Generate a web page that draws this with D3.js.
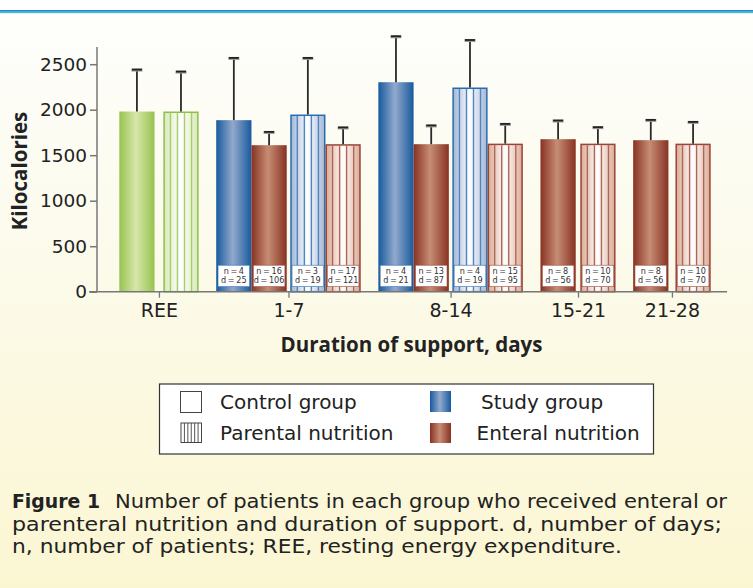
<!DOCTYPE html>
<html>
<head>
<meta charset="utf-8">
<script src="https://cdn.jsdelivr.net/npm/d3@7"></script>
<style>
	body { margin: 0; background: #fff; }
	svg { display: block; }
	text { font-family: "DejaVu Sans", sans-serif; }
	.bold { font-family: "Open Sans", "DejaVu Sans", sans-serif; font-weight: bold; }
	.nd { font-family: "DejaVu Sans Condensed", "DejaVu Sans", sans-serif; }
</style>
</head>
<body>
<div id="chart"></div>
<script>
//
// Data
//
var categories = ["REE", "1-7", "8-14", "15-21", "21-28"];

var barCategory = ["REE", "REE", "1-7", "1-7", "1-7", "1-7", "8-14", "8-14", "8-14", "8-14", "15-21", "15-21", "21-28", "21-28"];
var barGroup    = ["ree", "ree", "study", "enteral", "study", "enteral", "study", "enteral", "study", "enteral", "enteral", "enteral", "enteral", "enteral"];
var barStriped  = [false, true, false, false, true, true, false, false, true, true, false, true, false, true];
var barMean     = [1980, 1980, 1885, 1610, 1947, 1621, 2302, 1621, 2244, 1627, 1676, 1627, 1665, 1627];
var barSD       = [461, 439, 684, 146, 622, 184, 505, 206, 522, 217, 205, 181, 223, 239];
var barN        = [null, null, 4, 16, 3, 17, 4, 13, 4, 15, 8, 10, 8, 10];
var barD        = [null, null, 25, 106, 19, 121, 21, 87, 19, 95, 56, 70, 56, 70];

var yTicks = [0, 500, 1000, 1500, 2000, 2500];

var legendItems = ["Control group", "Parental nutrition", "Study group", "Enteral nutrition"];

var captionLabel = "Figure 1";
var captionLines = [
	"Number of patients in each group who received enteral or",
	"parenteral nutrition and duration of support. d, number of days;",
	"n, number of patients; REE, resting energy expenditure."
];

//
// Layout
//
var _width = 753,
	_height = 588;

var plot = { left: 97, right: 727, top: 46, bottom: 291.7 };

// gaps between solid/striped pairs and between groups, in bar widths
var pairGap = { "REE": 0.25, "1-7": 0.1, "8-14": 0.1, "15-21": 0.13, "21-28": 0.2 };
var groupGap = 0.5;

var colours = {
	ree:     { dark: "#97c350", light: "#d7e7a9", pale: "#d9e9bb", stroke: "#8cc04a", stripe: "#a6cf68" },
	study:   { dark: "#175a9e", light: "#93a9cc", pale: "#a3b6d6", stroke: "#2b6cae", stripe: "#4f86bf" },
	enteral: { dark: "#873222", light: "#c78d75", pale: "#dcab96", stroke: "#9a4535", stripe: "#ad6757" }
};

var bars = barMean.map(function(v, i) {
	return {
		cat: barCategory[i],
		group: barGroup[i],
		striped: barStriped[i],
		mean: v,
		sd: barSD[i],
		n: barN[i],
		d: barD[i]
	};
});

// unit offsets for each bar
var u = 0;
bars.forEach(function(b, i) {
	if (i > 0) {
		if (b.cat !== bars[i - 1].cat) {
			u += groupGap;
		} else if (b.striped !== bars[i - 1].striped) {
			u += pairGap[b.cat];
		}
	}
	b.u0 = u;
	u += 1;
});

var x = d3.scaleLinear()
	.domain([0, u])
	.range([119.3, 710.7]);

var y = d3.scaleLinear()
	.domain([0, 2700])
	.range([plot.bottom, plot.top]);

var barW = x(1) - x(0);

var svg = d3.select("#chart").append("svg")
	.attr("width", _width)
	.attr("height", _height);

var defs = svg.append("defs");

// page background
var bg = defs.append("linearGradient")
	.attr("id", "bg")
	.attr("x1", 0).attr("y1", 0).attr("x2", 0).attr("y2", 1);
bg.append("stop").attr("offset", 0).attr("stop-color", "#fefefc");
bg.append("stop").attr("offset", 0.35).attr("stop-color", "#fcfbee");
bg.append("stop").attr("offset", 1).attr("stop-color", "#fbf6d2");

Object.keys(colours).forEach(function(k) {
	var c = colours[k];
	var g = defs.append("linearGradient").attr("id", "solid-" + k);
	g.append("stop").attr("offset", 0).attr("stop-color", c.dark);
	g.append("stop").attr("offset", 0.47).attr("stop-color", c.light);
	g.append("stop").attr("offset", 1).attr("stop-color", c.dark);

	var s = defs.append("linearGradient").attr("id", "striped-" + k);
	s.append("stop").attr("offset", 0).attr("stop-color", c.pale);
	s.append("stop").attr("offset", 0.5).attr("stop-color", "#ffffff");
	s.append("stop").attr("offset", 1).attr("stop-color", c.pale);
});

svg.append("rect")
	.attr("width", _width)
	.attr("height", _height)
	.attr("fill", "#fff");

svg.append("rect")
	.attr("y", 13)
	.attr("width", _width)
	.attr("height", _height - 13)
	.attr("fill", "url(#bg)");

// blue rule at the top
svg.append("rect")
	.attr("y", 10)
	.attr("width", _width)
	.attr("height", 1.8)
	.attr("fill", "#1b8fc0");
svg.append("rect")
	.attr("y", 11.8)
	.attr("width", _width)
	.attr("height", 1.4)
	.attr("fill", "#52b6dc");

//
// Bars
//
var barG = svg.append("g").attr("class", "bars");

bars.forEach(function(b) {
	var bx = x(b.u0),
		by = y(b.mean),
		bh = y(0) - y(b.mean),
		c = colours[b.group];

	var g = barG.append("g");

	if (!b.striped) {
		g.append("rect")
			.attr("x", bx)
			.attr("y", by)
			.attr("width", barW)
			.attr("height", bh)
			.attr("fill", "url(#solid-" + b.group + ")");
	} else {
		g.append("rect")
			.attr("x", bx + 0.75)
			.attr("y", by + 0.75)
			.attr("width", barW - 1.5)
			.attr("height", bh - 0.75)
			.attr("fill", "url(#striped-" + b.group + ")")
			.attr("stroke", c.stroke)
			.attr("stroke-width", 1.5);

		g.selectAll("line.stripe")
			.data(d3.range(1, 5))
			.enter()
			.append("line")
			.attr("class", "stripe")
			.attr("x1", function(k) { return bx + k * barW / 5; })
			.attr("x2", function(k) { return bx + k * barW / 5; })
			.attr("y1", by + 1.5)
			.attr("y2", y(0))
			.attr("stroke", c.stripe)
			.attr("stroke-width", 1.4);
	}

	// error bar
	var cx = bx + barW / 2,
		ey = y(b.mean + b.sd);
	g.append("line")
		.attr("x1", cx).attr("x2", cx)
		.attr("y1", by).attr("y2", ey)
		.attr("stroke", "#2a2a2a")
		.attr("stroke-width", 1.8);
	g.append("line")
		.attr("x1", cx - 5.5).attr("x2", cx + 5.5)
		.attr("y1", ey + 0.5).attr("y2", ey + 0.5)
		.attr("stroke", "#9a9a9a")
		.attr("stroke-width", 3);
	g.append("line")
		.attr("x1", cx - 5).attr("x2", cx + 5)
		.attr("y1", ey).attr("y2", ey)
		.attr("stroke", "#222")
		.attr("stroke-width", 1.8);

	// n / d box
	if (b.n !== null) {
		var boxTop = y(0) - 26.5,
			boxBottom = y(0) - 5;
		g.append("rect")
			.attr("x", bx + 1.8)
			.attr("y", boxTop)
			.attr("width", barW - 3.6)
			.attr("height", boxBottom - boxTop)
			.attr("fill", "#fff")
			.attr("stroke", c.stroke)
			.attr("stroke-width", 0.6);
		g.append("text")
			.attr("class", "nd")
			.attr("x", cx)
			.attr("y", boxTop + 8.6)
			.attr("text-anchor", "middle")
			.attr("font-size", 9)
			.attr("fill", "#333")
			.text("n\u2009=\u2009" + b.n);
		g.append("text")
			.attr("class", "nd")
			.attr("x", cx)
			.attr("y", boxTop + 18)
			.attr("text-anchor", "middle")
			.attr("font-size", 9)
			.attr("fill", "#333")
			.text("d\u2009=\u2009" + b.d);
	}
});

//
// Axes
//
var axisColour = "#777";

var yAxis = svg.append("g")
	.attr("transform", "translate(" + plot.left + ",0)")
	.call(d3.axisLeft(y).tickValues(yTicks).tickSize(7).tickPadding(3).tickFormat(d3.format("d")));
yAxis.select(".domain").remove();
yAxis.append("line")
	.attr("x1", 0).attr("x2", 0)
	.attr("y1", plot.top + 1).attr("y2", plot.bottom)
	.attr("stroke", axisColour)
	.attr("stroke-width", 1.5);
yAxis.selectAll(".tick line").attr("stroke", axisColour).attr("stroke-width", 1.5);
yAxis.selectAll(".tick text")
	.attr("font-size", 18.5)
	.attr("fill", "#222")
	.attr("font-family", "\"DejaVu Sans\", sans-serif");

var catCentre = {};
categories.forEach(function(c) {
	var bs = bars.filter(function(b) { return b.cat === c; });
	catCentre[c] = (x(bs[0].u0) + x(bs[bs.length - 1].u0 + 1)) / 2;
});

var xPos = d3.scaleOrdinal()
	.domain(categories)
	.range(categories.map(function(c) { return catCentre[c]; }));

var xAxis = svg.append("g")
	.attr("transform", "translate(0," + plot.bottom + ")")
	.call(d3.axisBottom(xPos).tickSize(6).tickPadding(6));
xAxis.select(".domain").remove();
xAxis.append("line")
	.attr("x1", 89).attr("x2", plot.right)
	.attr("y1", 0).attr("y2", 0)
	.attr("stroke", axisColour)
	.attr("stroke-width", 1.5);
xAxis.selectAll(".tick line").attr("stroke", axisColour).attr("stroke-width", 1.3);
xAxis.selectAll(".tick text")
	.attr("font-size", 19)
	.attr("fill", "#222")
	.attr("font-family", "\"DejaVu Sans\", sans-serif");

// axis titles
svg.append("text")
	.attr("class", "bold")
	.attr("transform", "translate(27,171) rotate(-90)")
	.attr("text-anchor", "middle")
	.attr("font-size", 20.5)
	.attr("fill", "#222")
	.text("Kilocalories");

svg.append("text")
	.attr("class", "bold")
	.attr("x", 411.5)
	.attr("y", 352)
	.attr("text-anchor", "middle")
	.attr("font-size", 20.5)
	.attr("fill", "#222")
	.text("Duration of support, days");

//
// Legend
//
var legend = svg.append("g").attr("class", "legend");

legend.append("rect")
	.attr("x", 159.5).attr("y", 384)
	.attr("width", 494).attr("height", 70)
	.attr("fill", "#fff")
	.attr("stroke", "#333")
	.attr("stroke-width", 1.2);

// control
legend.append("rect")
	.attr("x", 180.5).attr("y", 391.5)
	.attr("width", 21).attr("height", 21)
	.attr("fill", "#fff")
	.attr("stroke", "#444")
	.attr("stroke-width", 1);

// parental (striped)
legend.append("rect")
	.attr("x", 181).attr("y", 423)
	.attr("width", 20.5).attr("height", 19.5)
	.attr("fill", "#fff")
	.attr("stroke", "#444")
	.attr("stroke-width", 1);
legend.selectAll("line.lstripe")
	.data(d3.range(1, 6))
	.enter()
	.append("line")
	.attr("x1", function(k) { return 181 + k * 20.5 / 6; })
	.attr("x2", function(k) { return 181 + k * 20.5 / 6; })
	.attr("y1", 423).attr("y2", 442.5)
	.attr("stroke", "#444")
	.attr("stroke-width", 0.9);

legend.append("rect")
	.attr("x", 430).attr("y", 391)
	.attr("width", 21).attr("height", 21)
	.attr("fill", "url(#solid-study)");
legend.append("rect")
	.attr("x", 430).attr("y", 423)
	.attr("width", 21).attr("height", 20)
	.attr("fill", "url(#solid-enteral)");

var legendPos = [[220, 408.5], [220, 440], [481, 408.5], [476.5, 440]];
legend.selectAll("text")
	.data(legendItems)
	.enter()
	.append("text")
	.attr("x", function(d, i) { return legendPos[i][0]; })
	.attr("y", function(d, i) { return legendPos[i][1]; })
	.attr("font-size", 20)
	.attr("fill", "#222")
	.text(function(d) { return d; });

//
// Caption
//
var caption = svg.append("g").attr("class", "caption");

caption.append("text")
	.attr("x", 12)
	.attr("y", 508)
	.attr("font-size", 19)
	.attr("font-weight", "bold")
	.attr("fill", "#222")
	.attr("textLength", 88)
	.attr("lengthAdjust", "spacingAndGlyphs")
	.text(captionLabel);

var captionX = [115, 12, 12],
	captionEnd = [727, 722, 622];

caption.selectAll("text.line")
	.data(captionLines)
	.enter()
	.append("text")
	.attr("class", "line")
	.attr("x", function(d, i) { return captionX[i]; })
	.attr("y", function(d, i) { return 508 + i * 22.5; })
	.attr("font-size", 19.5)
	.attr("fill", "#222")
	.attr("textLength", function(d, i) { return captionEnd[i] - captionX[i]; })
	.attr("lengthAdjust", "spacingAndGlyphs")
	.text(function(d) { return d; });
</script>
</body>
</html>
